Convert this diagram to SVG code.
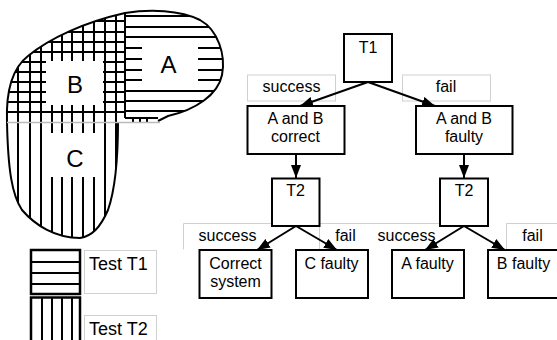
<svg xmlns="http://www.w3.org/2000/svg" width="557" height="340" viewBox="0 0 557 340">
  <style>
    .t { font-family: "Liberation Sans", Arial, sans-serif; font-size: 16px; fill: #000; text-anchor: middle; }
    .big { font-size: 24px; }
    .leg { font-size: 18px; text-anchor: start; }
    .box { fill: #fff; stroke: #000; stroke-width: 2; }
    .lbl { fill: #fff; stroke: #d0d0d0; stroke-width: 1; }
    .hatch { stroke: #000; stroke-width: 2; fill: none; }
    .edge { stroke: #000; stroke-width: 2; fill: none; marker-end: url(#arrow); }
    .outline { stroke: #000; stroke-width: 2; fill: none; }
  </style>
  <defs>
    <marker id="arrow" viewBox="0 0 13 10" refX="13" refY="5" markerWidth="13" markerHeight="10" markerUnits="userSpaceOnUse" orient="auto">
      <path d="M0,0 L13,5 L0,10 Z" fill="#000"/>
    </marker>
    <clipPath id="blobClip">
      <path d="M7,122 C6,95 10,70 28,56 C50,38 85,22 125,13 C150,9 180,10 200,20 C218,30 226,55 222,75 C218,95 195,110 168,116 L158,122 L118,122 C118,160 115,190 108,210 C100,228 92,236 80,238 C55,238 35,225 22,210 C12,195 8,170 7,122 Z"/>
    </clipPath>
  </defs>

  <rect width="557" height="340" fill="#fff"/>

  <!-- region map: A (T1 only), B (T1 and T2), C (T2 only) -->
  <g id="region-map">
    <g clip-path="url(#blobClip)">
      <g class="hatch">
        <!-- B grid: horizontal lines -->
        <path d="M0,21H125 M0,32H125 M0,42H125 M0,52H125 M0,62H125 M0,72H125 M0,82H125 M0,92H125 M0,102H125 M0,112H125"/>
        <!-- vertical lines through B and C -->
        <path d="M18,0V240 M30,0V240 M41,0V240 M52,0V240 M62,0V240 M72,0V240 M83,0V240 M94,0V240 M105,0V240 M116,0V240"/>
        <!-- A/B boundary -->
        <path d="M125,0V118"/>
        <!-- A: horizontal lines -->
        <path d="M125,16H230 M125,27H230 M125,37H230 M125,48H230 M125,59H230 M125,70H230 M125,80H230 M125,91H230 M125,101H230 M125,111H230"/>
        <!-- small strip under A -->
        <path d="M133,118V122 M140,118V122 M147,118V122"/>
      </g>
      <!-- label clearings -->
      <rect x="46" y="61" width="57" height="44" fill="#fff"/>
      <rect x="46" y="133" width="57" height="44" fill="#fff"/>
      <rect x="142" y="42" width="56" height="44" fill="#fff"/>
    </g>
    <!-- outline -->
    <path class="outline" d="M7,122 C6,95 10,70 28,56 C50,38 85,22 125,13 C150,9 180,10 200,20 C218,30 226,55 222,75 C218,95 195,110 168,116 L158,121"/>
    <path class="outline" d="M125,118 L158,118"/>
    <path class="outline" d="M118,122 C118,160 115,190 108,210 C100,228 92,236 80,238 C55,238 35,225 22,210 C12,195 8,170 7,122"/>
    <path d="M7,122.5H160" stroke="#bbb" stroke-width="1.5"/>
    <text class="t big" x="168.5" y="73">A</text>
    <text class="t big" x="75" y="93">B</text>
    <text class="t big" x="75" y="167">C</text>
  </g>

  <!-- legend -->
  <g id="legend-t1">
    <rect x="31" y="250" width="49" height="44" fill="#fff" stroke="#000" stroke-width="2.5"/>
    <path class="hatch" d="M31,262H80 M31,273H80 M31,284H80"/>
    <rect class="lbl" x="84.5" y="250.5" width="72" height="43"/>
    <text class="t leg" x="89" y="270">Test T1</text>
  </g>
  <g id="legend-t2">
    <rect x="31" y="297.5" width="49" height="50" fill="#fff" stroke="#000" stroke-width="2.5"/>
    <path class="hatch" d="M42,297V340 M52,297V340 M62,297V340 M72,297V340"/>
    <rect class="lbl" x="84.5" y="315.5" width="72" height="30"/>
    <text class="t leg" x="89" y="334.5">Test T2</text>
  </g>

  <!-- edge labels -->
  <g id="edge-labels">
    <rect class="lbl" x="247.5" y="75" width="88" height="26"/>
    <text class="t" x="291.5" y="92">success</text>
    <rect class="lbl" x="402.5" y="75" width="88" height="26"/>
    <text class="t" x="446" y="92">fail</text>
    <path d="M183.5,249.5V223.5H272 M319.5,249.5V223.5H440 M506.5,249.5V223.5H557" stroke="#d0d0d0" stroke-width="1" fill="none"/>
    <text class="t" x="227.5" y="241">success</text>
    <text class="t" x="345.5" y="241">fail</text>
    <text class="t" x="406.5" y="241">success</text>
    <text class="t" x="532.5" y="241">fail</text>
  </g>

  <!-- connectors -->
  <g id="connectors">
    <path class="edge" d="M368,82 L300,106"/>
    <path class="edge" d="M368,82 L435,106"/>
    <path class="edge" d="M296,154 L296,178"/>
    <path class="edge" d="M464,154 L464,178"/>
    <path class="edge" d="M296,226 L257,250"/>
    <path class="edge" d="M296,226 L337,250"/>
    <path class="edge" d="M464,226 L425,250"/>
    <path class="edge" d="M464,226 L505,250"/>
  </g>

  <!-- nodes -->
  <g id="node-t1">
    <rect class="box" x="344" y="34" width="48" height="48"/>
    <text class="t" x="368" y="52.5">T1</text>
  </g>
  <g id="node-ab-correct">
    <rect class="box" x="247.5" y="106" width="97" height="48"/>
    <text class="t" x="295.5" y="124">A and B</text>
    <text class="t" x="295.5" y="142">correct</text>
  </g>
  <g id="node-ab-faulty">
    <rect class="box" x="416" y="106" width="96.5" height="48"/>
    <text class="t" x="464" y="124">A and B</text>
    <text class="t" x="464" y="142">faulty</text>
  </g>
  <g id="node-t2-left">
    <rect class="box" x="272" y="178.5" width="47.5" height="47.5"/>
    <text class="t" x="295.5" y="196">T2</text>
  </g>
  <g id="node-t2-right">
    <rect class="box" x="440" y="178.5" width="48" height="47.5"/>
    <text class="t" x="464" y="196">T2</text>
  </g>
  <g id="node-correct-system">
    <rect class="box" x="199.5" y="250" width="72" height="48"/>
    <text class="t" x="235.5" y="269">Correct</text>
    <text class="t" x="235.5" y="286.5">system</text>
  </g>
  <g id="node-c-faulty">
    <rect class="box" x="296" y="250" width="72" height="48"/>
    <text class="t" x="331.5" y="269">C faulty</text>
  </g>
  <g id="node-a-faulty">
    <rect class="box" x="392" y="250" width="72" height="48"/>
    <text class="t" x="427.5" y="269">A faulty</text>
  </g>
  <g id="node-b-faulty">
    <rect class="box" x="488" y="250" width="72" height="48"/>
    <text class="t" x="523.5" y="269">B faulty</text>
  </g>
</svg>
